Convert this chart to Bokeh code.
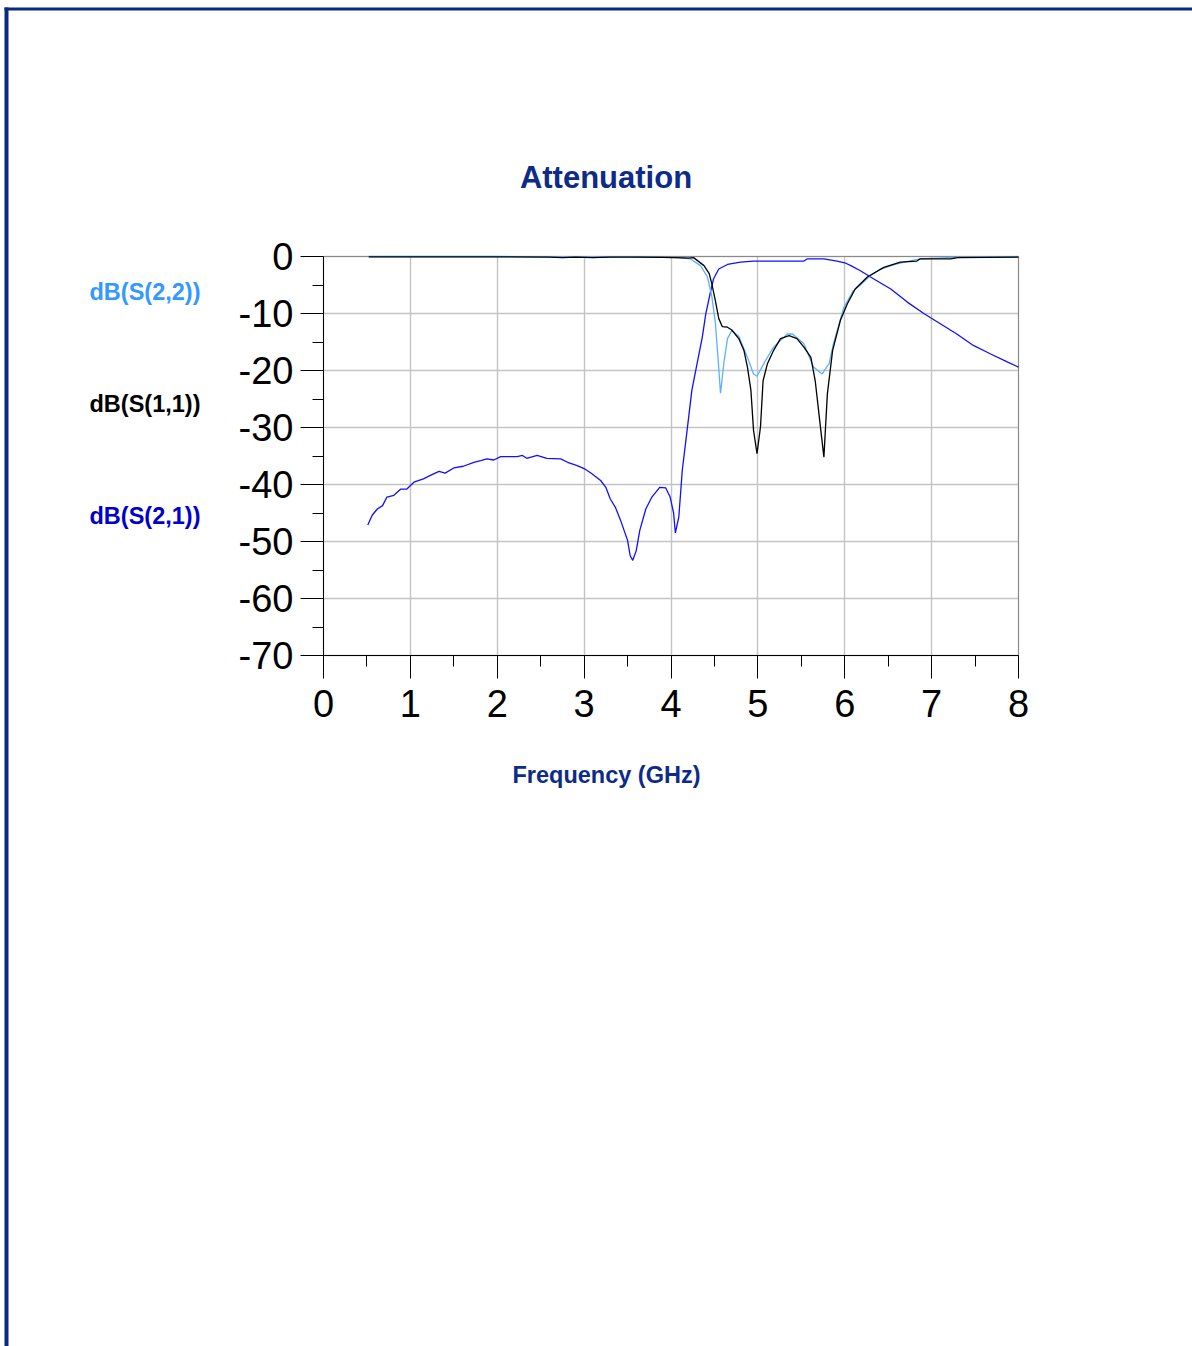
from bokeh.plotting import figure
from bokeh.models import Range1d, FixedTicker, Label, BoxAnnotation, Grid
from bokeh.embed import file_html
from bokeh.resources import INLINE

# ---------------- data ----------------
freq_s21 = [0.51, 0.56, 0.62, 0.68, 0.73, 0.81, 0.89, 0.96, 1.04, 1.15, 1.23, 1.33, 1.40,
            1.50, 1.61, 1.73, 1.81, 1.88, 1.96, 2.04, 2.23, 2.29, 2.34, 2.46, 2.57, 2.73,
            2.81, 2.92, 3.00, 3.09, 3.19, 3.25, 3.30, 3.36, 3.42, 3.50, 3.53, 3.56, 3.60,
            3.64, 3.71, 3.78, 3.87, 3.94, 3.99, 4.03, 4.05, 4.09, 4.13, 4.19, 4.24, 4.30,
            4.36, 4.40, 4.45, 4.49, 4.55, 4.65, 4.80, 4.95, 5.53, 5.57, 5.76, 5.91, 6.00,
            6.07, 6.18, 6.33, 6.53, 6.72, 6.91, 7.10, 7.29, 7.48, 7.68, 7.87, 8.00]
db_s21 = [-47.1, -45.4, -44.3, -43.7, -42.2, -41.9, -40.8, -40.8, -39.6, -39.0, -38.4, -37.7, -38.0,
          -37.1, -36.8, -36.1, -35.8, -35.5, -35.7, -35.1, -35.1, -34.9, -35.4, -34.9, -35.4, -35.5,
          -36.1, -36.7, -37.2, -38.1, -39.3, -40.5, -42.5, -44.0, -46.3, -49.8, -52.5, -53.3, -51.6,
          -48.1, -44.3, -42.2, -40.5, -40.6, -42.2, -45.0, -48.5, -45.7, -37.5, -29.9, -23.5, -18.8,
          -14.2, -10.1, -6.5, -3.9, -2.2, -1.4, -1.0, -0.8, -0.8, -0.4, -0.4, -0.8, -1.1,
          -1.6, -2.5, -3.9, -5.7, -8.0, -10.0, -11.8, -13.6, -15.6, -17.1, -18.5, -19.4]

freq_s11 = [0.52, 1.0, 2.0, 2.6, 2.75, 2.9, 3.1, 3.3, 3.6, 3.9, 4.05, 4.2, 4.26, 4.38, 4.44,
            4.47, 4.51, 4.55, 4.59, 4.65, 4.70, 4.78, 4.84, 4.88, 4.92, 4.95, 4.99, 5.03, 5.06,
            5.11, 5.18, 5.26, 5.36, 5.45, 5.53, 5.61, 5.66, 5.72, 5.76, 5.80, 5.86, 5.95, 6.03,
            6.12, 6.26, 6.45, 6.64, 6.83, 6.87, 7.22, 7.30, 8.00]
db_s11 = [-0.05, -0.05, -0.05, -0.1, -0.2, -0.1, -0.2, -0.1, -0.1, -0.15, -0.2, -0.3, -0.2, -1.6, -3.0,
          -4.8, -7.7, -10.9, -12.3, -12.4, -12.9, -14.4, -16.5, -19.4, -23.5, -30.5, -34.6, -29.9, -21.8,
          -18.8, -16.5, -14.4, -13.9, -14.4, -15.9, -17.7, -21.8, -29.9, -35.2, -24.1, -16.5, -11.2, -8.3,
          -5.7, -3.6, -1.9, -1.0, -0.8, -0.4, -0.4, -0.2, -0.1]

freq_s22 = [0.52, 1.0, 2.0, 3.0, 3.5, 4.1, 4.22, 4.34, 4.42, 4.47, 4.51, 4.54, 4.57, 4.61, 4.65,
            4.70, 4.78, 4.88, 4.95, 4.99, 5.09, 5.18, 5.34, 5.40, 5.53, 5.64, 5.74, 5.82, 5.87,
            5.99, 6.10, 6.18, 6.30, 6.41, 6.60, 6.78, 6.87, 7.18, 7.60, 8.00]
db_s22 = [0.0, 0.0, 0.0, -0.05, -0.05, -0.2, -0.4, -1.6, -3.6, -7.0, -11.5, -17.5, -24.0, -18.5, -14.4,
          -13.0, -14.0, -17.7, -20.6, -21.0, -18.2, -15.9, -13.6, -13.6, -15.3, -19.4, -20.6, -18.8, -15.3,
          -8.9, -6.0, -5.0, -3.3, -2.2, -1.3, -0.7, -0.4, -0.2, -0.05, -0.05]

x_ticks = [0, 1, 2, 3, 4, 5, 6, 7, 8]
x_minor = [0.5, 1.5, 2.5, 3.5, 4.5, 5.5, 6.5, 7.5]
y_ticks = [0, -10, -20, -30, -40, -50, -60, -70]
y_minor = [-5, -15, -25, -35, -45, -55, -65]

series_names = ["dB(S(2,2))", "dB(S(1,1))", "dB(S(2,1))"]

# ---------------- layout constants (pixels) ----------------
W, H = 1192, 1346
PLOT_L, PLOT_R, PLOT_T, PLOT_B = 323, 1018, 256, 655
X0, X1 = x_ticks[0], x_ticks[-1]
Y0, Y1 = y_ticks[-1], y_ticks[0]
px_x = (PLOT_R - PLOT_L) / (X1 - X0)
px_y = (PLOT_B - PLOT_T) / (Y1 - Y0)

FONT = "Liberation Sans"
NUM_FONT = "'Liberation Sans Narrow', 'Arial Narrow', 'Liberation Sans', sans-serif"
NAVY = "#0d2b87"
C_S22 = "#3399ff"
C_S11 = "#000000"
C_S21 = "#0000cc"

# the frame covers the whole canvas; the axes are fixed at the data edges
p = figure(width=W, height=H, output_backend="svg", toolbar_location=None,
           x_range=Range1d(X0 - PLOT_L / px_x, X1 + (W - PLOT_R) / px_x),
           y_range=Range1d(Y0 - (H - PLOT_B) / px_y, Y1 + PLOT_T / px_y),
           min_border=0, background_fill_color="white", border_fill_color="white")
p.outline_line_color = None

xa, ya = p.xaxis[0], p.yaxis[0]
xa.fixed_location = Y0
ya.fixed_location = X0
xa.bounds = (X0, X1)
ya.bounds = (Y0, Y1)
for ax, ticks, minor in ((xa, x_ticks, x_minor), (ya, y_ticks, y_minor)):
    ax.ticker = FixedTicker(ticks=ticks, minor_ticks=minor)
    ax.major_label_overrides = {t: str(t) for t in ticks}
    ax.axis_line_color = "black"
    ax.major_tick_line_color = "black"
    ax.minor_tick_line_color = "black"
    ax.major_tick_in = 0
    ax.minor_tick_in = 0
    ax.major_tick_out = 23
    ax.minor_tick_out = 11
    ax.major_label_text_font = NUM_FONT
    ax.major_label_text_font_size = "38px"
    ax.major_label_text_color = "black"
xa.major_label_standoff = 11
ya.major_label_standoff = 7

# grid restricted to the plot area
p.renderers = [r for r in p.renderers if not isinstance(r, Grid)]
p.center = [c for c in p.center if not isinstance(c, Grid)]
has_cross = "cross_bounds" in Grid.properties()
for dim, ticks, bnds, cb in ((0, x_ticks, (X0, X1), (Y0, Y1)), (1, y_ticks, (Y0, Y1), (X0, X1))):
    kw = dict(dimension=dim, ticker=FixedTicker(ticks=ticks), bounds=bnds,
              grid_line_color="#c4c4c4", grid_line_width=1.4)
    if has_cross:
        kw["cross_bounds"] = cb
    p.add_layout(Grid(**kw), "center")
if not has_cross:
    p.segment(x0=x_ticks[1:-1], y0=[Y0] * (len(x_ticks) - 2), x1=x_ticks[1:-1], y1=[Y1] * (len(x_ticks) - 2),
              line_color="#c4c4c4", line_width=1.4)
    p.segment(x0=[X0] * (len(y_ticks) - 2), y0=y_ticks[1:-1], x1=[X1] * (len(y_ticks) - 2), y1=y_ticks[1:-1],
              line_color="#c4c4c4", line_width=1.4)

# plot box
p.add_layout(BoxAnnotation(left=X0, right=X1, bottom=Y0, top=Y1, fill_alpha=0,
                           line_color="black", line_width=1, level="underlay"))

# curves
p.line(freq_s21, db_s21, line_color="#1010ff", line_width=1.3)
p.line(freq_s22, db_s22, line_color="#5cb0ff", line_width=1.3)
p.line(freq_s11, db_s11, line_color=C_S11, line_width=1.3)

# series labels on the left (screen units: from canvas bottom-left)
for name, col, ypage in zip(series_names, [C_S22, C_S11, C_S21], [291.7, 403, 515]):
    p.add_layout(Label(x=89, y=H - ypage, x_units="screen", y_units="screen", text=name,
                       text_font=FONT, text_font_style="bold", text_font_size="23.5px",
                       text_color=col, text_align="left", text_baseline="middle"))

# title and x label
p.add_layout(Label(x=605.5, y=H - 176.5, x_units="screen", y_units="screen", text="Attenuation",
                   text_font=FONT, text_font_style="bold", text_font_size="31px",
                   text_color=NAVY, text_align="center", text_baseline="middle"))
p.add_layout(Label(x=606, y=H - 774.7, x_units="screen", y_units="screen", text="Frequency (GHz)",
                   text_font=FONT, text_font_style="bold", text_font_size="23.5px",
                   text_color=NAVY, text_align="center", text_baseline="middle"))

# page frame (dark blue border, left and top)
p.add_layout(BoxAnnotation(left=4, right=8, top=7, bottom=H,
                           left_units="canvas", right_units="canvas",
                           top_units="canvas", bottom_units="canvas",
                           fill_color="#0a2a80", fill_alpha=1, line_alpha=0))
p.add_layout(BoxAnnotation(left=4, right=W, top=7, bottom=10,
                           left_units="canvas", right_units="canvas",
                           top_units="canvas", bottom_units="canvas",
                           fill_color="#0a2a80", fill_alpha=1, line_alpha=0))

open("out.html", "w").write(file_html(p, INLINE))
